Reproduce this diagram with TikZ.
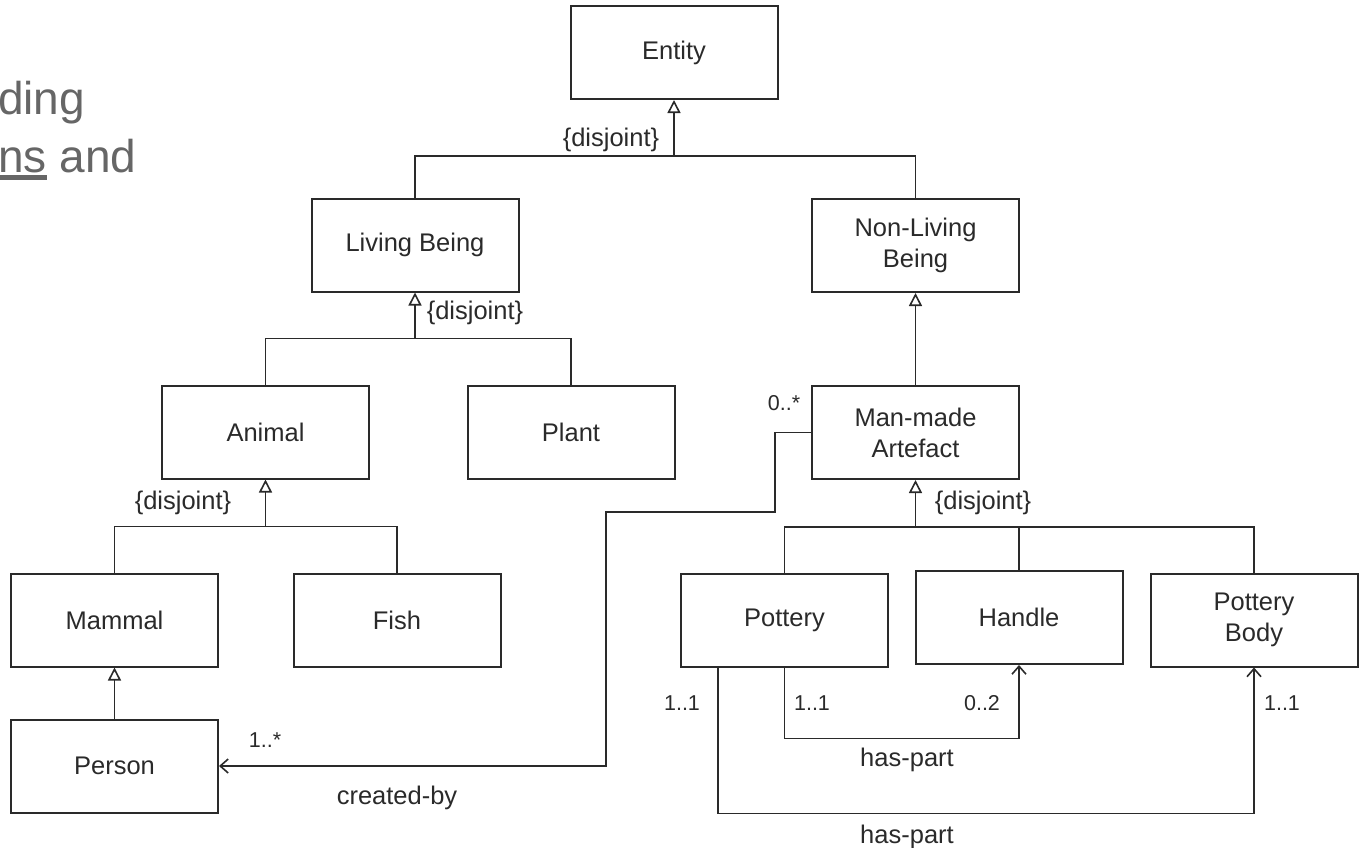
\documentclass[tikz,border=0pt]{standalone}
\usepackage{fontspec}
\setmainfont{Liberation Sans}
\usetikzlibrary{arrows.meta,calc}
\definecolor{ink}{HTML}{2A2A2A}
\definecolor{slidegrey}{HTML}{666666}
\begin{document}
\begin{tikzpicture}[x=1pt,y=-1pt,
  box/.style={draw=ink, line width=2pt, minimum width=207pt, minimum height=93pt,
    inner sep=0pt, align=center, text=ink, font=\fontsize{25.5}{31}\selectfont},
  conn/.style={draw=ink, line width=1.6pt},
  gen/.style={conn, -{Triangle[open, length=13pt, width=13pt, fill=white]}},
  assoc/.style={conn, -{Straight Barb[length=8pt, width=14pt]}},
  lbl/.style={text=ink, inner sep=0pt, font=\fontsize{25.5}{31}\selectfont},
  mult/.style={text=ink, inner sep=0pt, font=\fontsize{21.5}{26}\selectfont},
  slide/.style={text=slidegrey, inner sep=0pt, anchor=base west, font=\fontsize{46}{55}\selectfont}]
\useasboundingbox (0,0) rectangle (1362,847);

% slide text fragments
\node[slide] (s1) at (-2,114) {ding};
\node[slide] (s2) at (-2,172) {ns and};
\fill[slidegrey] (0,175) rectangle (47,179.5);

% boxes
\node[box] (entity) at (674,52.5) {Entity};
\node[box] (lb) at (415,245) {Living Being};
\node[box] (nlb) at (915.5,245.5) {Non-Living\\Being};
\node[box] (animal) at (265.5,432) {Animal};
\node[box] (plant) at (571,432) {Plant};
\node[box] (mma) at (915.5,432.5) {Man-made\\Artefact};
\node[box] (mammal) at (114.5,620) {Mammal};
\node[box] (fish) at (397,620) {Fish};
\node[box] (pottery) at (784.5,620) {Pottery};
\node[box] (handle) at (1019,617.5) {Handle};
\node[box] (pbody) at (1254,620) {Pottery\\Body};
\node[box] (person) at (114.5,766) {Person};

% junction points
\coordinate (j1) at ($(entity.south)+(0,56)$);
\coordinate (j2) at ($(lb.south)+(0,46)$);
\coordinate (j3) at ($(animal.south)+(0,47)$);
\coordinate (j4) at ($(mma.south)+(0,47)$);

% generalisations
\draw[gen] (j1) -- (entity.south);
\draw[conn] (lb.north) -- (lb.north |- j1) -- (nlb.north |- j1) -- (nlb.north);
\draw[gen] (j2) -- (lb.south);
\draw[conn] (animal.north) -- (animal.north |- j2) -- (plant.north |- j2) -- (plant.north);
\draw[gen] (mma.north) -- (nlb.south);
\draw[gen] (j3) -- (animal.south);
\draw[conn] (mammal.north) -- (mammal.north |- j3) -- (fish.north |- j3) -- (fish.north);
\draw[gen] (person.north) -- (mammal.south);
\draw[gen] (j4) -- (mma.south);
\draw[conn] (pottery.north) -- (pottery.north |- j4) -- (pbody.north |- j4) -- (pbody.north);
\draw[conn] (handle.north) -- (handle.north |- j4);

% created-by association
\coordinate (c1) at (775,512);
\coordinate (c2) at (606,512);
\draw[assoc] (mma.west) -| (c1) -- (c2) |- (person.east);

% has-part associations
\coordinate (p1) at ($(pottery.south)+(0,71)$);
\draw[assoc] (pottery.south) -- (p1) -| (handle.south);
\coordinate (p2s) at ($(pottery.south west)+(38,0)$);
\coordinate (p2) at ($(p2s)+(0,146)$);
\draw[assoc] (p2s) -- (p2) -| (pbody.south);

% labels
\node[lbl] (d1) at (611,140) {\{disjoint\}};
\node[lbl] (d2) at (475,313) {\{disjoint\}};
\node[lbl] (d3) at (183,503) {\{disjoint\}};
\node[lbl] (d4) at (983,503) {\{disjoint\}};
\node[mult] (m0) at (784,403) {0..*};
\node[mult] (m1) at (265,740) {1..*};
\node[lbl] (cb) at (397,798) {created-by};
\node[mult] (m2) at (682,703) {1..1};
\node[mult] (m3) at (812,703) {1..1};
\node[mult] (m4) at (982,703) {0..2};
\node[mult] (m5) at (1282,703) {1..1};
\node[lbl] (hp1) at (907,760) {has-part};
\node[lbl] (hp2) at (907,837) {has-part};
\end{tikzpicture}
\end{document}
